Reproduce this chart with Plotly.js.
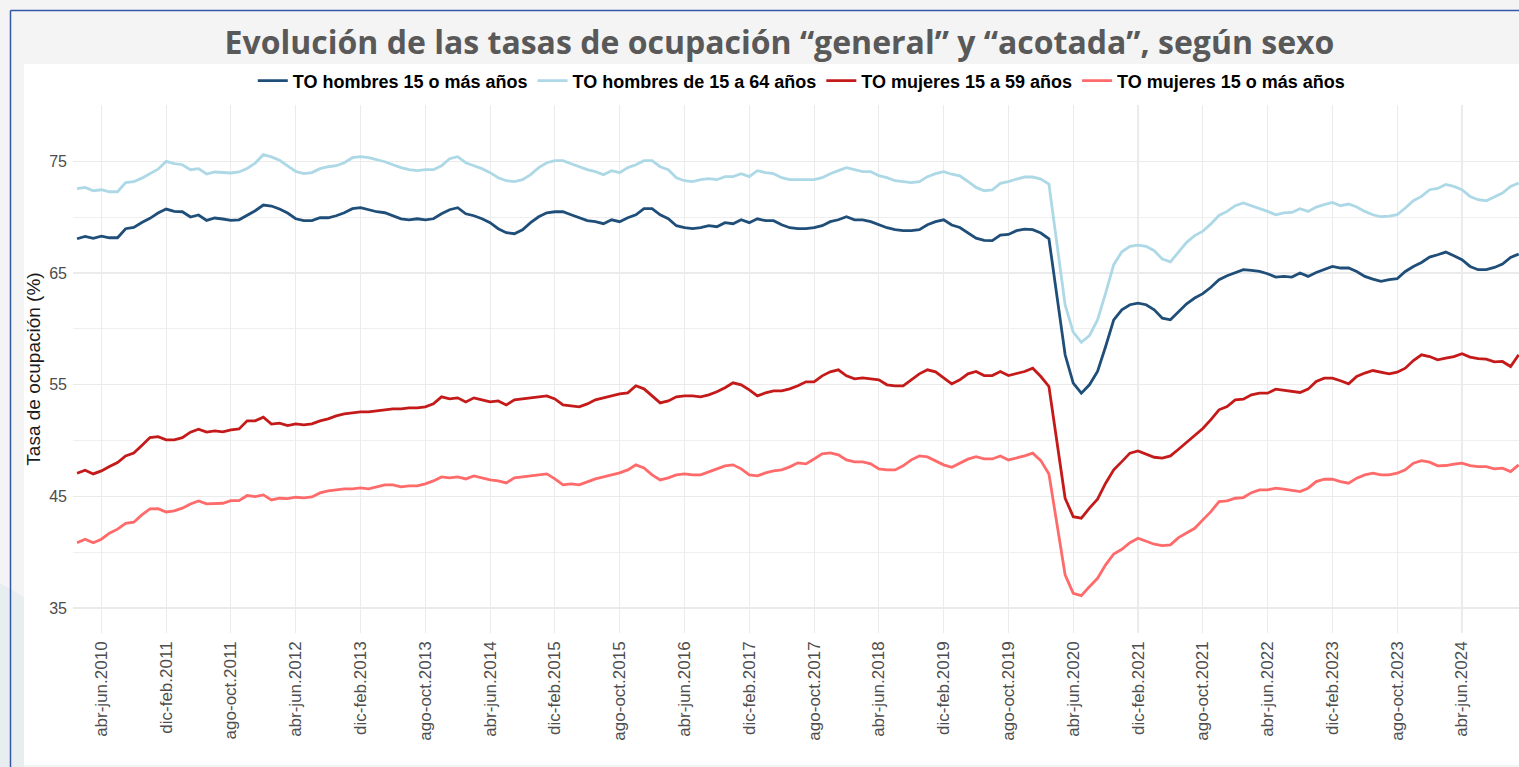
<!DOCTYPE html>
<html>
<head>
<meta charset="utf-8">
<script src="https://cdn.plot.ly/plotly-3.0.1.min.js"></script>
<style>
  html, body { margin: 0; padding: 0; background: #f4f4f4; overflow: hidden; }
  #chart { width: 1519px; height: 767px; }
</style>
</head>
<body>
<div id="chart"></div>
<script>
// ---- Data ----
const monthNames = ['ene','feb','mar','abr','may','jun','jul','ago','sep','oct','nov','dic'];
const firstYear = 2010;

const seriesNames = [
  'TO hombres 15 o más años',
  'TO hombres de 15 a 64 años',
  'TO mujeres 15 a 59 años',
  'TO mujeres 15 o más años'
];

const hombres15mas = [
  68.07,68.28,68.1,68.31,68.16,68.16,68.97,69.08,69.53,69.9,70.37,70.73,70.52,70.49,70.02,70.2,69.71,69.93,69.84,69.71,
  69.77,70.16,70.58,71.09,71.0,70.73,70.37,69.86,
  69.69,69.69,69.95,69.95,70.13,70.4,70.76,70.85,70.67,70.49,70.4,70.13,69.86,69.77,69.86,69.77,69.86,70.31,70.67,70.85,
  70.31,70.13,69.86,69.51,68.97,68.61,68.52,68.88,69.51,70.04,70.4,70.49,70.49,70.22,69.95,69.69,69.6,69.42,69.77,69.6,
  69.95,70.22,70.76,70.76,70.22,69.86,69.24,69.06,68.97,69.06,69.24,69.15,69.51,69.42,69.77,69.51,69.86,69.69,69.69,69.33,
  69.06,68.97,68.97,69.06,69.24,69.6,69.77,70.04,69.77,69.77,69.6,69.33,69.06,68.88,68.79,68.79,68.88,69.33,69.6,69.77,
  69.3,69.08,68.58,68.13,67.92,67.9,68.4,68.46,68.8,68.94,68.88,68.58,68.07,62.9,57.68,55.14,54.24,54.99,56.18,58.42,
  60.81,61.71,62.16,62.31,62.16,61.71,60.96,60.81,61.56,62.25,62.76,63.15,63.73,
  64.4,64.76,65.05,65.3,65.23,65.14,64.94,64.64,64.7,64.64,65.0,64.7,65.05,65.3,65.59,65.45,65.45,65.14,64.7,64.46,
  64.25,64.4,64.49,65.14,65.59,65.95,66.43,66.64,66.88,66.55,66.19,65.59,65.3,65.3,65.5,65.8,66.4,66.7
];

const hombres15a64 = [
  72.55,72.67,72.37,72.46,72.28,72.28,73.1,73.18,73.5,73.9,74.3,75.0,74.8,74.7,74.25,74.35,73.87,74.05,74.0,73.96,
  74.05,74.37,74.85,75.6,75.4,75.1,74.6,74.1,
  73.9,74.0,74.35,74.52,74.61,74.88,75.33,75.42,75.33,75.15,74.97,74.7,74.44,74.26,74.17,74.26,74.26,74.61,75.24,75.42,
  74.88,74.61,74.35,73.99,73.54,73.27,73.18,73.36,73.81,74.44,74.88,75.06,75.06,74.79,74.52,74.26,74.08,73.81,74.17,73.99,
  74.44,74.7,75.06,75.06,74.52,74.26,73.54,73.27,73.18,73.36,73.45,73.36,73.63,73.63,73.9,73.63,74.17,73.99,73.9,73.54,
  73.36,73.36,73.36,73.36,73.54,73.9,74.17,74.44,74.26,74.08,74.08,73.72,73.54,73.27,73.18,73.09,73.18,73.63,73.9,74.08,
  73.85,73.7,73.2,72.67,72.37,72.44,73.03,73.18,73.42,73.6,73.6,73.42,72.97,67.6,62.15,59.7,58.8,59.4,60.8,63.2,
  65.75,66.9,67.4,67.5,67.4,67.0,66.25,66.0,66.9,67.75,68.35,68.75,69.4,
  70.16,70.52,71.03,71.27,71.03,70.82,70.52,70.22,70.38,70.43,70.76,70.52,70.91,71.12,71.33,71.03,71.18,70.91,70.52,70.22,
  70.04,70.1,70.22,70.82,71.48,71.86,72.46,72.58,72.94,72.76,72.46,71.86,71.57,71.48,71.86,72.17,72.76,73.06
];

const mujeres15a59 = [
  47.07,47.34,47.01,47.28,47.67,48.02,48.62,48.87,49.55,50.26,50.35,50.06,50.06,50.26,50.75,51.02,50.75,50.86,50.78,50.95,
  51.04,51.76,51.76,52.09,51.47,51.55,51.34,51.49,
  51.4,51.49,51.76,51.94,52.21,52.39,52.48,52.57,52.57,52.66,52.75,52.84,52.84,52.93,52.93,53.02,53.28,53.91,53.73,53.82,
  53.46,53.82,53.64,53.46,53.55,53.19,53.64,53.73,53.82,53.91,54.0,53.73,53.19,53.1,53.02,53.28,53.64,53.82,54.0,54.18,
  54.27,54.9,54.63,54.0,53.37,53.55,53.91,54.0,54.0,53.91,54.09,54.36,54.72,55.17,54.99,54.54,54.0,54.27,54.45,54.45,
  54.63,54.9,55.26,55.26,55.79,56.15,56.33,55.79,55.52,55.61,55.52,55.43,54.99,54.9,54.9,55.43,55.97,56.33,56.15,55.61,
  55.07,55.44,55.97,56.18,55.82,55.82,56.18,55.82,55.97,56.18,56.48,55.73,54.84,49.85,44.83,43.18,43.04,43.94,44.74,46.18,
  47.37,48.11,48.87,49.07,48.8,48.5,48.42,48.62,49.22,49.82,50.42,51.08,51.87,
  52.75,53.04,53.64,53.7,54.09,54.24,54.24,54.6,54.48,54.39,54.3,54.6,55.28,55.59,55.59,55.35,55.08,55.73,56.04,56.27,
  56.09,55.97,56.12,56.48,57.16,57.68,57.52,57.23,57.38,57.52,57.77,57.47,57.34,57.29,57.05,57.08,56.63,57.68
];

const mujeres15mas = [
  40.85,41.16,40.85,41.16,41.7,42.06,42.59,42.68,43.34,43.87,43.9,43.6,43.7,43.94,44.32,44.59,44.32,44.35,44.38,44.62,
  44.62,45.07,44.98,45.13,44.68,44.83,44.8,44.92,
  44.86,44.95,45.31,45.49,45.58,45.67,45.67,45.76,45.67,45.85,46.03,46.03,45.85,45.94,45.94,46.12,46.38,46.74,46.65,46.74,
  46.56,46.83,46.65,46.47,46.38,46.2,46.65,46.74,46.83,46.92,47.01,46.56,46.03,46.12,46.03,46.29,46.56,46.74,46.92,47.1,
  47.37,47.82,47.55,46.92,46.47,46.65,46.92,47.01,46.92,46.92,47.19,47.46,47.73,47.82,47.46,46.92,46.83,47.1,47.28,47.37,
  47.64,48.0,47.91,48.35,48.8,48.89,48.71,48.27,48.09,48.09,47.91,47.46,47.37,47.37,47.73,48.27,48.62,48.53,48.18,47.82,
  47.6,47.97,48.33,48.56,48.35,48.35,48.62,48.26,48.42,48.62,48.87,48.2,47.0,42.5,37.96,36.32,36.1,36.91,37.66,38.86,
  39.84,40.26,40.85,41.25,41.0,40.71,40.58,40.65,41.3,41.75,42.14,42.89,43.63,
  44.53,44.59,44.83,44.89,45.33,45.58,45.58,45.73,45.64,45.51,45.42,45.73,46.32,46.53,46.53,46.32,46.18,46.63,46.92,47.07,
  46.92,46.92,47.07,47.37,47.97,48.2,48.06,47.73,47.76,47.88,47.97,47.76,47.67,47.67,47.46,47.52,47.22,47.82
];

const tickLabels = [
  'abr-jun.2010','dic-feb.2011','ago-oct.2011','abr-jun.2012','dic-feb.2013','ago-oct.2013',
  'abr-jun.2014','dic-feb.2015','ago-oct.2015','abr-jun.2016','dic-feb.2017','ago-oct.2017',
  'abr-jun.2018','dic-feb.2019','ago-oct.2019','abr-jun.2020','dic-feb.2021','ago-oct.2021',
  'abr-jun.2022','dic-feb.2023','ago-oct.2023','abr-jun.2024'
];

const yTickValues = [35, 45, 55, 65, 75];
const yMinorValues = [40, 50, 60, 70, 80];

// moving-quarter labels (ene-mar.2010, feb-abr.2010, ...)
const categories = [];
for (let i = 0; i < hombres15mas.length; i++) {
  const m = i % 12;
  const yr = firstYear + Math.floor((i + 2) / 12);
  categories.push(monthNames[m] + '-' + monthNames[(m + 2) % 12] + '.' + yr);
}

// ---- Layout geometry ----
const W = 1519, H = 767;
const M = { l: 73, r: 0, t: 105, b: 134 };
const PW = W - M.l - M.r, PH = H - M.t - M.b;
const px = x => (x - M.l) / PW;
const py = y => (H - M.b - y) / PH;

const colors = ['#1f4e79', '#add8e6', '#c41a1a', '#ff6a6a'];
const seriesData = [hombres15mas, hombres15a64, mujeres15a59, mujeres15mas];

const traces = seriesData.map((vals, k) => ({
  type: 'scatter',
  mode: 'lines',
  x: categories,
  y: vals,
  name: seriesNames[k],
  line: { color: colors[k], width: 2.8 },
  hoverinfo: 'x+y+name'
}));

const baseFont = 'Liberation Sans, Arial, sans-serif';

const layout = {
  width: W, height: H, autosize: false,
  margin: M,
  paper_bgcolor: '#f4f4f4',
  plot_bgcolor: '#ffffff',
  title: {
    text: 'Evolución de las tasas de ocupación “general” y “acotada”, según sexo',
    font: { family: 'Open Sans, sans-serif', size: 32, color: '#595959', weight: 'bold' },
    x: 779.5 / W, xanchor: 'center', xref: 'container',
    y: 1 - 42.5 / H, yanchor: 'middle', yref: 'container'
  },
  showlegend: true,
  legend: {
    orientation: 'h',
    x: 0.504, xanchor: 'center',
    y: py(81), yanchor: 'middle',
    font: { family: baseFont, size: 18, color: '#000000', weight: 'bold' },
    itemwidth: 30,
    bgcolor: 'rgba(0,0,0,0)',
    traceorder: 'normal'
  },
  xaxis: {
    type: 'category',
    categoryorder: 'array',
    categoryarray: categories,
    range: [-0.5, 178.04],
    tickmode: 'array',
    tickvals: tickLabels,
    ticktext: tickLabels,
    tickangle: -90,
    tickfont: { family: baseFont, size: 17, color: '#4d4d4d' },
    ticks: '',
    ticklabelstandoff: 4,
    showgrid: true,
    gridcolor: '#ebebeb',
    gridwidth: 1.1,
    zeroline: false,
    showline: false,
    fixedrange: true
  },
  yaxis: {
    range: [32.76, 80.05],
    tickmode: 'array',
    tickvals: yTickValues,
    ticktext: yTickValues.map(String),
    tickfont: { family: baseFont, size: 16, color: '#4d4d4d' },
    ticks: '',
    ticklabelstandoff: 5,
    showgrid: true,
    gridcolor: '#ebebeb',
    gridwidth: 1.1,
    minor: { tickmode: 'array', tickvals: yMinorValues, showgrid: true, gridcolor: '#ebebeb', gridwidth: 0.8, ticks: '' },
    zeroline: false,
    showline: false,
    fixedrange: true,
    title: {
      text: 'Tasa de ocupación (%)',
      font: { family: baseFont, size: 19, color: '#1a1a1a' },
      standoff: 3
    }
  },
  shapes: [
    // lower-left background decoration
    { type: 'path', xref: 'paper', yref: 'paper', layer: 'below',
      path: `M ${px(0)} ${py(583)} L ${px(24)} ${py(597)} L ${px(24)} ${py(767)} L ${px(0)} ${py(767)} Z`,
      fillcolor: '#e8eef0', line: { width: 0 } },
    // white chart panel
    { type: 'rect', xref: 'paper', yref: 'paper', layer: 'below',
      x0: px(24), x1: px(1519), y0: py(765), y1: py(64),
      fillcolor: '#ffffff', line: { width: 0 } },
    // blue frame lines
    { type: 'line', xref: 'paper', yref: 'paper', layer: 'above',
      x0: px(10.5), x1: px(10.5), y0: py(10.5), y1: py(767),
      line: { color: '#3457a6', width: 1.5 } },
    { type: 'line', xref: 'paper', yref: 'paper', layer: 'above',
      x0: px(10.5), x1: px(1519), y0: py(10.5), y1: py(10.5),
      line: { color: '#3457a6', width: 1.5 } }
  ],
  hovermode: 'x unified'
};

Plotly.newPlot('chart', traces, layout, { displayModeBar: false, staticPlot: true });
</script>
</body>
</html>
